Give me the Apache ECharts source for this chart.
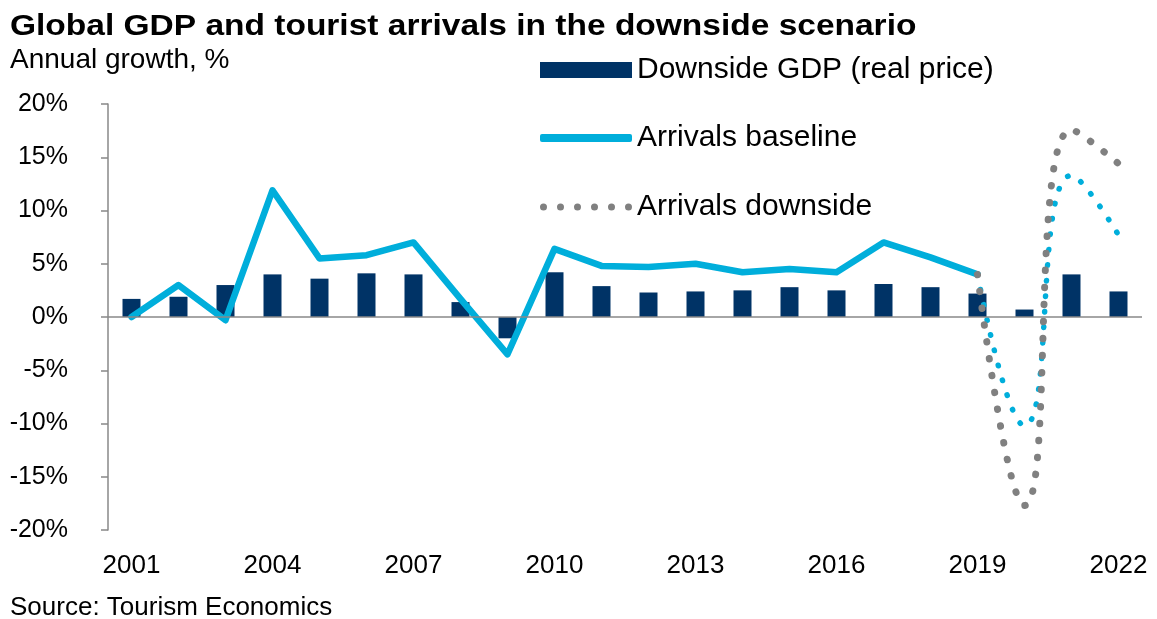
<!DOCTYPE html>
<html>
<head>
<meta charset="utf-8">
<script src="https://cdn.jsdelivr.net/npm/echarts@6/dist/echarts.min.js"></script>
<style>
html,body{margin:0;padding:0;background:#fff;}
#c{width:1157px;height:619px;}
</style>
</head>
<body>
<div id="c"></div>
<script>
const years = ['2001','2002','2003','2004','2005','2006','2007','2008','2009','2010','2011','2012','2013','2014','2015','2016','2017','2018','2019','2020','2021','2022'];
const gdpDownside = [1.7, 1.9, 3.0, 4.0, 3.6, 4.1, 4.0, 1.4, -2.0, 4.2, 2.9, 2.3, 2.4, 2.5, 2.8, 2.5, 3.1, 2.8, 2.2, 0.7, 4.0, 2.4];
const arrivalsBaseline = [0.0, 3.0, -0.3, 11.9, 5.5, 5.8, 7.0, 1.7, -3.5, 6.4, 4.8, 4.7, 5.0, 4.2, 4.5, 4.2, 7.0, 5.6, 4.0, null, null, null];
const arrivalsBaselineForecast = [null, null, null, null, null, null, null, null, null, null, null, null, null, null, null, null, null, null, 4.0, -10.2, 13.3, 7.7];
const arrivalsDownside = [null, null, null, null, null, null, null, null, null, null, null, null, null, null, null, null, null, null, 4.0, -17.7, 17.6, 14.4];
const yTicks = {min: -20, max: 20, interval: 5};

const FONT = '"Liberation Sans", Arial, sans-serif';
// dotted legend icon: six round dots
const dotsIcon = (function () {
  let p = 'path://';
  for (let i = 0; i < 6; i++) {
    const cx = 3.5 + i * 17;
    p += 'M' + (cx - 3.5) + ',3.5 A3.5,3.5 0 1 1 ' + (cx + 3.5) + ',3.5 A3.5,3.5 0 1 1 ' + (cx - 3.5) + ',3.5 Z ';
  }
  return p;
})();
const legendText = {fontFamily: FONT, fontSize: 30, color: '#000'};

const chart = echarts.init(document.getElementById('c'), null, {renderer: 'canvas'});
chart.setOption({
  animation: false,
  backgroundColor: '#fff',
  title: [
    {text: 'Annual growth, %', left: 10, top: 46, padding: 0,
     textStyle: {fontFamily: FONT, fontSize: 28, fontWeight: 'normal', color: '#000'}},
    {text: 'Source: Tourism Economics', left: 10, top: 595, padding: 0,
     textStyle: {fontFamily: FONT, fontSize: 26, fontWeight: 'normal', color: '#000'}}
  ],
  graphic: [
    {type: 'text', x: 10, y: 12, scaleX: 1.155,
     style: {text: 'Global GDP and tourist arrivals in the downside scenario',
             fontFamily: 'Liberation Sans', fontSize: 29, fontWeight: 'bold', fill: '#000', verticalAlign: 'top'}}
  ],
  legend: [
    {left: 540, top: 55, padding: 0, itemWidth: 92, itemHeight: 16, selectedMode: false,
     data: [{name: 'Downside GDP (real price)', icon: 'rect'}], textStyle: legendText},
    {left: 540, top: 123, padding: 0, itemWidth: 92, itemHeight: 8, selectedMode: false,
     data: [{name: 'Arrivals baseline', icon: 'roundRect'}], textStyle: legendText},
    {left: 540, top: 192, padding: 0, itemWidth: 92, itemHeight: 7, selectedMode: false,
     data: [{name: 'Arrivals downside', icon: dotsIcon}], textStyle: legendText}
  ],
  grid: {left: 108, right: 15, top: 104, bottom: 89, containLabel: false},
  xAxis: {
    type: 'category', data: years, boundaryGap: true,
    axisLine: {show: false, onZero: false},
    axisTick: {show: false},
    axisLabel: {interval: 2, margin: 23, fontFamily: FONT, fontSize: 26, color: '#000'},
    splitLine: {show: false}
  },
  yAxis: {
    type: 'value', min: yTicks.min, max: yTicks.max, interval: yTicks.interval,
    axisLine: {show: true, lineStyle: {color: '#888', width: 1.5}},
    axisTick: {show: true, inside: false, length: 7, lineStyle: {color: '#888', width: 1.5}},
    axisLabel: {formatter: '{value}%', margin: 40, fontFamily: FONT, fontSize: 25, color: '#000'},
    splitLine: {show: false}
  },
  series: [
    {
      name: 'Downside GDP (real price)', type: 'bar', data: gdpDownside, barWidth: 18,
      itemStyle: {color: '#003366'},
      markLine: {
        silent: true, symbol: ['none', 'none'], label: {show: false},
        lineStyle: {color: '#888', width: 1.5, type: 'solid'},
        data: [{yAxis: 0}]
      }
    },
    {
      name: 'Arrivals baseline', type: 'line', data: arrivalsBaseline, symbol: 'none',
      lineStyle: {color: '#00AEDB', width: 6.5, cap: 'round', join: 'round'},
      itemStyle: {color: '#00AEDB'}
    },
    {
      name: 'Arrivals baseline forecast', type: 'line', data: arrivalsBaselineForecast, symbol: 'none', smooth: 0.5,
      lineStyle: {color: '#00AEDB', width: 5.5, type: [0.5, 15], cap: 'round'},
      itemStyle: {color: '#00AEDB'}
    },
    {
      name: 'Arrivals downside', type: 'line', data: arrivalsDownside, symbol: 'none', smooth: 0.5,
      lineStyle: {color: '#808080', width: 7, type: [0.5, 16.5], cap: 'round'},
      itemStyle: {color: '#808080'}
    }
  ]
});
</script>
</body>
</html>
